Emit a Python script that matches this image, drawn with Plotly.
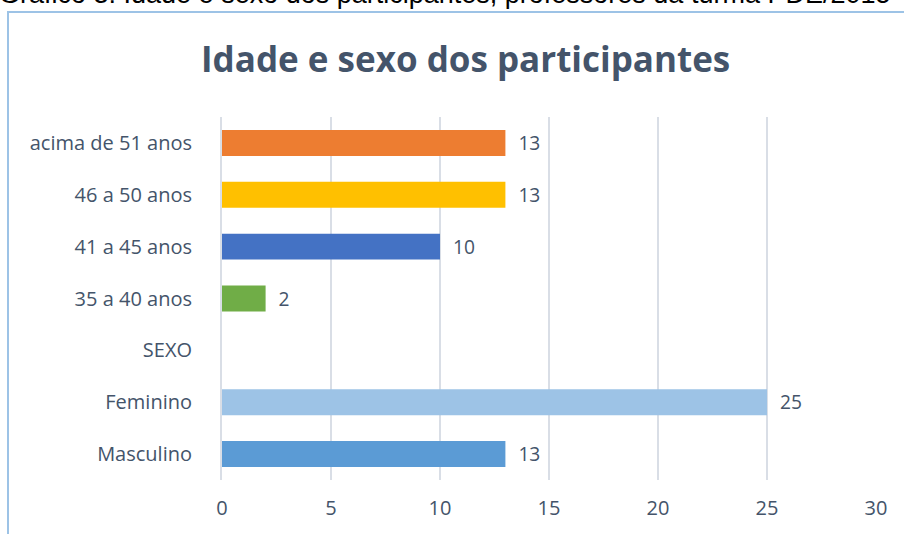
import plotly.graph_objects as go

categories = ["acima de 51 anos", "46 a 50 anos", "41 a 45 anos", "35 a 40 anos",
              "SEXO", "Feminino", "Masculino"]
values = [13, 13, 10, 2, None, 25, 13]
colors = ["#ED7D31", "#FFC000", "#4472C4", "#70AD47", "#FFFFFF", "#9DC3E6", "#5B9BD5"]
x_ticks = [0, 5, 10, 15, 20, 25, 30]

W, H = 904, 534
L, R, T, B = 222, 28, 117, 54
pw, ph = W - L - R, H - T - B

def px_to_paper_x(px):
    return (px - L) / pw

def px_to_paper_y(py):
    return (H - B - py) / ph

FONT = "Open Sans, Lato, sans-serif"
labels = ["" if v is None else "\u00a0\u00a0" + str(v) for v in values]

fig = go.Figure()
fig.add_trace(go.Bar(
    y=categories, x=values, orientation="h",
    marker=dict(color=colors, line=dict(width=0)),
    text=labels, textposition="outside", cliponaxis=False,
    textfont=dict(family=FONT, size=20, color="#44546A"),
    hoverinfo="x+y",
))

fig.update_layout(
    width=W, height=H,
    margin=dict(l=L, r=R, t=T, b=B, autoexpand=False),
    paper_bgcolor="white", plot_bgcolor="white",
    showlegend=False, bargap=0.5,
    font=dict(family=FONT, color="#44546A"),
    xaxis=dict(range=[0, 30], tickvals=x_ticks, showgrid=True, gridcolor="#D9DEE6",
               gridwidth=2, zeroline=False, showline=False, ticks="", automargin=False,
               tickfont=dict(size=20, color="#44546A"), ticklabelstandoff=14),
    yaxis=dict(categoryorder="array", categoryarray=categories, autorange="reversed",
               showline=True, linecolor="#D9DEE6", linewidth=2, ticks="", automargin=False,
               tickfont=dict(size=20, color="#44546A"), ticklabelstandoff=24),
)

# chart border (light blue)
fig.add_shape(type="rect", xref="paper", yref="paper",
              x0=px_to_paper_x(8), x1=px_to_paper_x(W + 20),
              y0=px_to_paper_y(H + 20), y1=px_to_paper_y(12),
              line=dict(color="#9DC3E6", width=2), fillcolor="rgba(0,0,0,0)", layer="below")

# chart title
fig.add_annotation(text="<b>Idade e sexo dos participantes</b>", xref="paper", yref="paper",
                   x=px_to_paper_x(465), y=px_to_paper_y(59), xanchor="center", yanchor="middle",
                   showarrow=False, font=dict(family=FONT, size=35, color="#44546A"))

# document caption (cut at top)
fig.add_annotation(text="Gráfico 3: Idade e sexo dos participantes, professores da turma PDE/2015",
                   xref="paper", yref="paper",
                   x=px_to_paper_x(-3), y=px_to_paper_y(11), xanchor="left", yanchor="bottom",
                   showarrow=False, font=dict(family="Liberation Sans, Arial, sans-serif", size=27, color="#000000"))

fig.write_html("out.html", config={"displayModeBar": False},
               post_script="document.body.style.margin='0';")
